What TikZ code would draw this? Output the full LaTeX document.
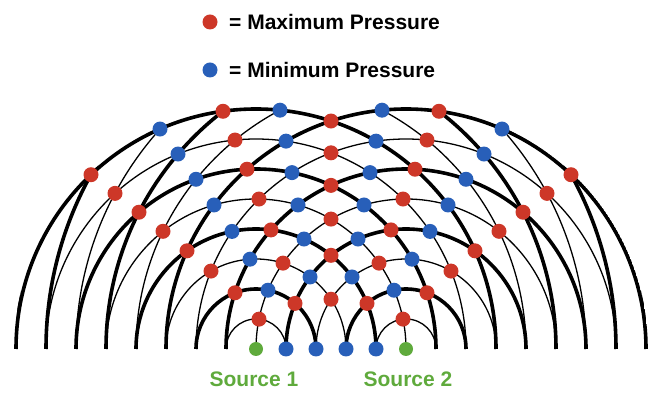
\documentclass[tikz,border=0pt]{standalone}
\usepackage{fontspec}
\setmainfont{Liberation Sans}
\definecolor{cred}{RGB}{205,55,40}
\definecolor{cblue}{RGB}{40,95,185}
\definecolor{cgreen}{RGB}{95,170,60}
\tikzset{
  crest/.style={line width=3.6pt,black},
  trough/.style={line width=1.3pt,black},
  dotmax/.style={circle,fill=cred,inner sep=0pt,minimum size=15pt},
  dotmin/.style={circle,fill=cblue,inner sep=0pt,minimum size=15pt},
  srcdot/.style={circle,fill=cgreen,inner sep=0pt,minimum size=14pt},
  legend/.style={font=\bfseries\fontsize{21}{24}\selectfont,anchor=west,inner sep=0pt},
  srclabel/.style={font=\bfseries\fontsize{21}{24}\selectfont,text=cgreen,inner sep=0pt}
}
\begin{document}
\begin{tikzpicture}[x=1pt,y=1pt]
\useasboundingbox (0,0) rectangle (664,401);
% legend
\node[dotmax] (lmax) at (210,379) {};
\node[legend] (tmax) at (229,379) {= Maximum Pressure};
\node[dotmin] (lmin) at (210,331) {};
\node[legend] (tmin) at (229,331) {= Minimum Pressure};
% waves
\coordinate (s1c) at (256,52);
\coordinate (s2c) at (406,52);
\begin{scope}
\clip (s1c) circle (242) (s2c) circle (242);
\foreach \k in {1,...,13}{
  \pgfmathsetmacro{\r}{30*\k}
  \ifodd\k
    \draw[trough] (s1c) ++(\r,0) arc (0:180:\r);
    \draw[trough] (s2c) ++(\r,0) arc (0:180:\r);
  \else
    \draw[crest] (s1c) ++(\r,0) arc (0:180:\r);
    \draw[crest] (s2c) ++(\r,0) arc (0:180:\r);
  \fi
}
\end{scope}
% intersection dots
\begin{scope}[shift={(256pt,52pt)},x=30pt,y=30pt]
\foreach \i in {1,...,13}{
  \foreach \j in {1,...,13}{
    \pgfmathtruncatemacro{\okk}{((\i+\j)>=5) && (abs(\i-\j)<5) && ((\i<9) || (\j<9)) ? 1 : 0}
    \ifnum\okk=1
      \pgfmathsetmacro{\xs}{(\i*\i-\j*\j+25)/10}
      \pgfmathsetmacro{\ys}{sqrt(max(0,\i*\i-\xs*\xs))}
      \pgfmathtruncatemacro{\prt}{mod(\i+\j,2)}
      \ifnum\prt=0
        \node[dotmax] (d\i-\j) at (\xs,\ys) {};
      \else
        \node[dotmin] (d\i-\j) at (\xs,\ys) {};
      \fi
    \fi
  }
}
\end{scope}
% sources
\node[srcdot] (s1) at (s1c) {};
\node[srcdot] (s2) at (s2c) {};
\node[srclabel] (l1) at (254,22) {Source 1};
\node[srclabel] (l2) at (408,22) {Source 2};
\end{tikzpicture}
\end{document}
